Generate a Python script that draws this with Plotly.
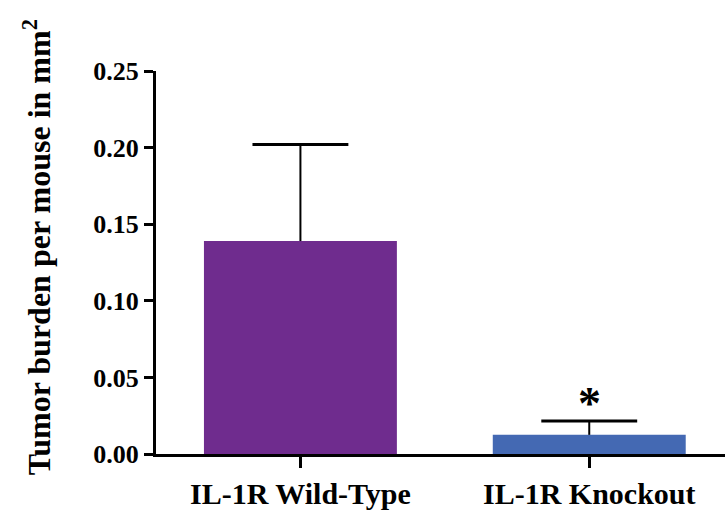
import plotly.graph_objects as go

# Tumor burden per mouse (mm^2): mean and upper SEM
groups = ["IL-1R Wild-Type", "IL-1R Knockout"]
means = [0.139, 0.0125]
sem_upper = [0.063, 0.009]
bar_colors = ["#6F2C8E", "#4469B3"]
sig_marks = ["", "*"]
y_title = "Tumor burden per mouse in mm<sup>2</sup>"

FONT = "Liberation Serif"
BAR_WIDTH = 0.668
CAP_HALF = 0.166

xpos = list(range(len(groups)))

fig = go.Figure()
fig.add_trace(go.Bar(
    x=xpos, y=means, width=BAR_WIDTH,
    marker=dict(color=bar_colors, line=dict(width=0)),
    showlegend=False, hoverinfo="skip",
))

# one-sided (upper) error bars: stem from the bar top, cap at mean + SEM
stem_x, stem_y, cap_x, cap_y = [], [], [], []
for i, m, e in zip(xpos, means, sem_upper):
    stem_x += [i, i, None]
    stem_y += [m, m + e, None]
    cap_x += [i - CAP_HALF, i + CAP_HALF, None]
    cap_y += [m + e, m + e, None]
fig.add_trace(go.Scatter(x=stem_x, y=stem_y, mode="lines",
                         line=dict(color="black", width=2),
                         showlegend=False, hoverinfo="skip"))
fig.add_trace(go.Scatter(x=cap_x, y=cap_y, mode="lines",
                         line=dict(color="black", width=3),
                         showlegend=False, hoverinfo="skip"))

# significance markers above the error bars
for i, m, e, s in zip(xpos, means, sem_upper, sig_marks):
    if s:
        fig.add_annotation(x=i, y=m + e, text="<b>" + s + "</b>", showarrow=False,
                           yanchor="bottom", yshift=-10,
                           font=dict(family=FONT, size=46, color="black"))

# rotated y-axis title
fig.add_annotation(xref="paper", yref="paper", x=0, y=0.54, xshift=-119,
                   xanchor="center", yanchor="middle", textangle=-90,
                   text="<b>" + y_title + "</b>", showarrow=False,
                   font=dict(family=FONT, size=32, color="black"))

fig.update_layout(
    width=725, height=521,
    margin=dict(l=156, r=0, t=71, b=67),
    paper_bgcolor="white", plot_bgcolor="white",
    font=dict(family=FONT, color="black"),
)
fig.update_xaxes(
    range=[-0.5, 1.47],
    tickvals=xpos, ticktext=["<b>" + g + "</b>" for g in groups],
    showline=True, linecolor="black", linewidth=3,
    ticks="outside", ticklen=11, tickwidth=2.5, tickcolor="black",
    tickfont=dict(family=FONT, size=30, color="black"),
    showgrid=False, zeroline=False,
)
yticks = [0, 0.05, 0.10, 0.15, 0.20, 0.25]
fig.update_yaxes(
    range=[0, 0.25], tickvals=yticks,
    ticktext=["<b>%.2f</b>" % v for v in yticks],
    showline=True, linecolor="black", linewidth=3,
    ticks="outside", ticklen=9, tickwidth=2.5, tickcolor="black",
    tickfont=dict(family=FONT, size=26, color="black"),
    showgrid=False, zeroline=False,
)

fig.write_html("out.html")
